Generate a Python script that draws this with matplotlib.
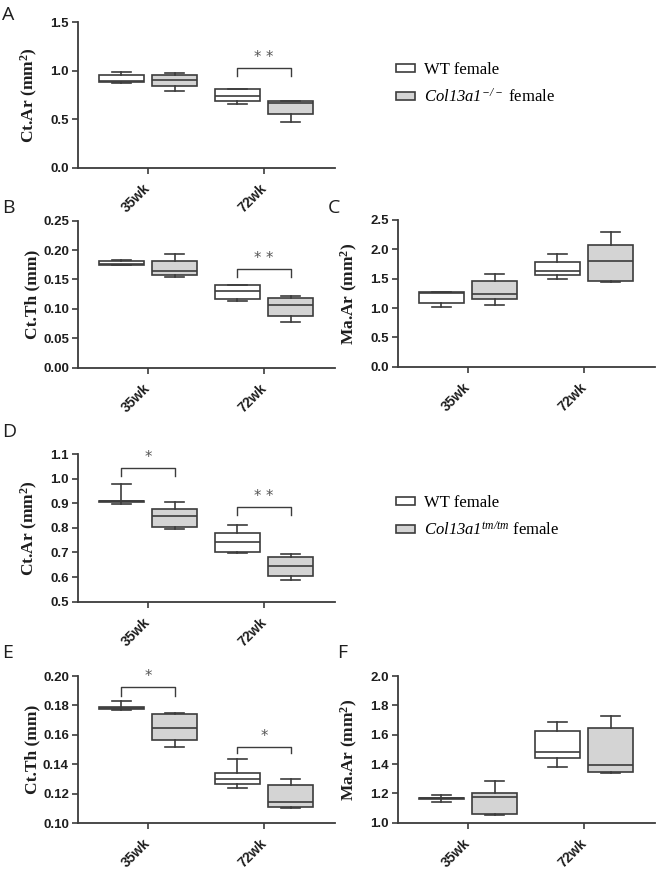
import matplotlib
matplotlib.use('Agg')
import matplotlib.pyplot as plt
from matplotlib.patches import Patch

plt.rcParams['mathtext.fontset'] = 'custom'
plt.rcParams['mathtext.rm'] = 'Liberation Serif:italic'
plt.rcParams['mathtext.it'] = 'Liberation Serif:italic'
plt.rcParams['mathtext.bf'] = 'Liberation Serif:bold'

groups = ['35wk', '72wk']
# box stats per group: (whislo, q1, med, q3, whishi)
A_wt = [(0.87, 0.88, 0.89, 0.96, 0.99), (0.655, 0.69, 0.74, 0.81, 0.81)]
A_mut = [(0.79, 0.84, 0.90, 0.96, 0.98), (0.47, 0.555, 0.665, 0.685, 0.69)]
B_wt = [(0.174, 0.175, 0.176, 0.182, 0.184), (0.113, 0.117, 0.130, 0.140, 0.141)]
B_mut = [(0.155, 0.157, 0.164, 0.182, 0.194), (0.078, 0.088, 0.106, 0.1185, 0.1224)]
C_wt = [(1.02, 1.09, 1.26, 1.27, 1.28), (1.489, 1.557, 1.636, 1.778, 1.926)]
C_mut = [(1.05, 1.148, 1.244, 1.455, 1.58), (1.44, 1.466, 1.80, 2.08, 2.29)]
D_wt = [(0.895, 0.906, 0.909, 0.911, 0.979), (0.697, 0.701, 0.743, 0.778, 0.81)]
D_mut = [(0.795, 0.805, 0.849, 0.876, 0.907), (0.588, 0.605, 0.643, 0.681, 0.694)]
E_wt = [(0.1767, 0.1776, 0.1783, 0.1787, 0.183), (0.1242, 0.1267, 0.1299, 0.1344, 0.1439)]
E_mut = [(0.152, 0.1566, 0.165, 0.174, 0.175), (0.1102, 0.1113, 0.1147, 0.1262, 0.130)]
F_wt = [(1.141, 1.164, 1.168, 1.170, 1.191), (1.382, 1.439, 1.484, 1.627, 1.689)]
F_mut = [(1.055, 1.059, 1.173, 1.205, 1.284), (1.341, 1.345, 1.391, 1.645, 1.73)]

# significance brackets: (group index, bar y, leg bottom y, text)
A_sig = [(1, 1.03, 0.945, '* *')]
B_sig = [(1, 0.168, 0.155, '* *')]
D_sig = [(0, 1.043, 1.009, '*'), (1, 0.884, 0.853, '* *')]
E_sig = [(0, 0.1928, 0.1867, '*'), (1, 0.152, 0.1475, '*')]

A_ticks = [0.0, 0.5, 1.0, 1.5]
B_ticks = [0.00, 0.05, 0.10, 0.15, 0.20, 0.25]
C_ticks = [0.0, 0.5, 1.0, 1.5, 2.0, 2.5]
D_ticks = [0.5, 0.6, 0.7, 0.8, 0.9, 1.0, 1.1]
E_ticks = [0.10, 0.12, 0.14, 0.16, 0.18, 0.20]
F_ticks = [1.0, 1.2, 1.4, 1.6, 1.8, 2.0]

W, H = 660, 871
fig = plt.figure(figsize=(W / 100, H / 100), dpi=100)

LINE = '#3c3c3c'
FILL_MUT = '#d4d4d4'
TXT = '#1e1e1e'


def axpos(left, right, top, bottom):
    return [left / W, 1 - bottom / H, (right - left) / W, (bottom - top) / H]


def panel(rect, wt, mut, ticks, fmt, ylabel, sig):
    ax = fig.add_axes(axpos(*rect))
    width_px = rect[1] - rect[0]
    x0 = 1 - 70 / 116
    ax.set_xlim(x0, x0 + width_px / 116)
    ax.set_ylim(ticks[0], ticks[-1])
    off, bw = 0.23, 0.39
    for data, sign, fc in ((wt, -1, 'white'), (mut, 1, FILL_MUT)):
        stats = [dict(whislo=s[0], q1=s[1], med=s[2], q3=s[3], whishi=s[4]) for s in data]
        pos = [i + 1 + sign * off for i in range(len(data))]
        ax.bxp(stats, positions=pos, widths=bw, capwidths=0.16, showfliers=False,
               patch_artist=True, manage_ticks=False,
               boxprops=dict(facecolor=fc, edgecolor=LINE, linewidth=1.2),
               medianprops=dict(color=LINE, linewidth=1.2),
               whiskerprops=dict(color=LINE, linewidth=1.2),
               capprops=dict(color=LINE, linewidth=1.2))
    for g, yb, yl, t in sig:
        xa, xb = g + 1 - off, g + 1 + off
        ax.plot([xa, xa, xb, xb], [yl, yb, yb, yl], color=LINE, lw=1.0)
        ax.annotate(t, xy=(g + 1, yb), xytext=(0, 2), textcoords='offset points',
                    ha='center', va='bottom', fontsize=10.5, color='#555555')
    for s in ('top', 'right'):
        ax.spines[s].set_visible(False)
    for s in ('left', 'bottom'):
        ax.spines[s].set_color(LINE)
        ax.spines[s].set_linewidth(1.3)
    ax.set_yticks(ticks)
    ax.set_yticklabels([fmt.format(t) for t in ticks], fontfamily='Liberation Sans',
                       fontweight='bold', fontsize=9.5, color=TXT)
    ax.set_xticks([1, 2])
    ax.set_xticklabels(groups, rotation=45, ha='right', va='center', rotation_mode='anchor',
                       fontfamily='Liberation Sans', fontweight='bold', fontsize=10, color=TXT)
    ax.tick_params(axis='both', direction='out', length=4, width=1.2, color=LINE)
    ax.tick_params(axis='x', pad=9)
    ax.tick_params(axis='y', pad=2.5)
    ax.set_ylabel(ylabel, fontfamily='Liberation Serif', fontweight='bold', fontsize=12.5, color=TXT)
    ax.yaxis.set_label_coords(-38 / width_px, 0.5)
    return ax


AR = r'Ct.Ar (mm$^{\mathbf{2}}$)'
MA = r'Ma.Ar (mm$^{\mathbf{2}}$)'
panel((78, 335, 22, 168), A_wt, A_mut, A_ticks, '{:.1f}', AR, A_sig)
panel((78, 335, 220.7, 367.7), B_wt, B_mut, B_ticks, '{:.2f}', 'Ct.Th (mm)', B_sig)
panel((398, 655, 220, 366.7), C_wt, C_mut, C_ticks, '{:.1f}', MA, [])
panel((78, 335, 454, 601.7), D_wt, D_mut, D_ticks, '{:.1f}', AR, D_sig)
panel((78, 335, 676, 823.3), E_wt, E_mut, E_ticks, '{:.2f}', 'Ct.Th (mm)', E_sig)
panel((398, 655, 676, 822.7), F_wt, F_mut, F_ticks, '{:.1f}', MA, [])

letters = [('A', 2, 20), ('B', 2, 213), ('C', 328, 213), ('D', 2, 437), ('E', 2, 658), ('F', 337, 658)]
for t, x, y in letters:
    fig.text(x / W, 1 - y / H, t, fontsize=14, fontfamily='Open Sans', va='baseline', ha='left', color=TXT)

legend_labels = [['WT female', r'$\mathit{Col13a1}^{-/-}$ female'],
                 ['WT female', r'$\mathit{Col13a1}^{tm/tm}$ female']]
legend_centers = [84, 517]
for labels, yc in zip(legend_labels, legend_centers):
    handles = [Patch(facecolor='white', edgecolor=LINE, linewidth=1.2),
               Patch(facecolor=FILL_MUT, edgecolor=LINE, linewidth=1.2)]
    fig.legend(handles, labels, loc='center left', bbox_to_anchor=(396 / W, 1 - yc / H),
               frameon=False, borderpad=0, borderaxespad=0, handlelength=1.15, handleheight=0.42,
               handletextpad=0.55, labelspacing=0.6,
               prop={'family': 'Liberation Serif', 'size': 12})

fig.savefig('out.png', dpi=100)
